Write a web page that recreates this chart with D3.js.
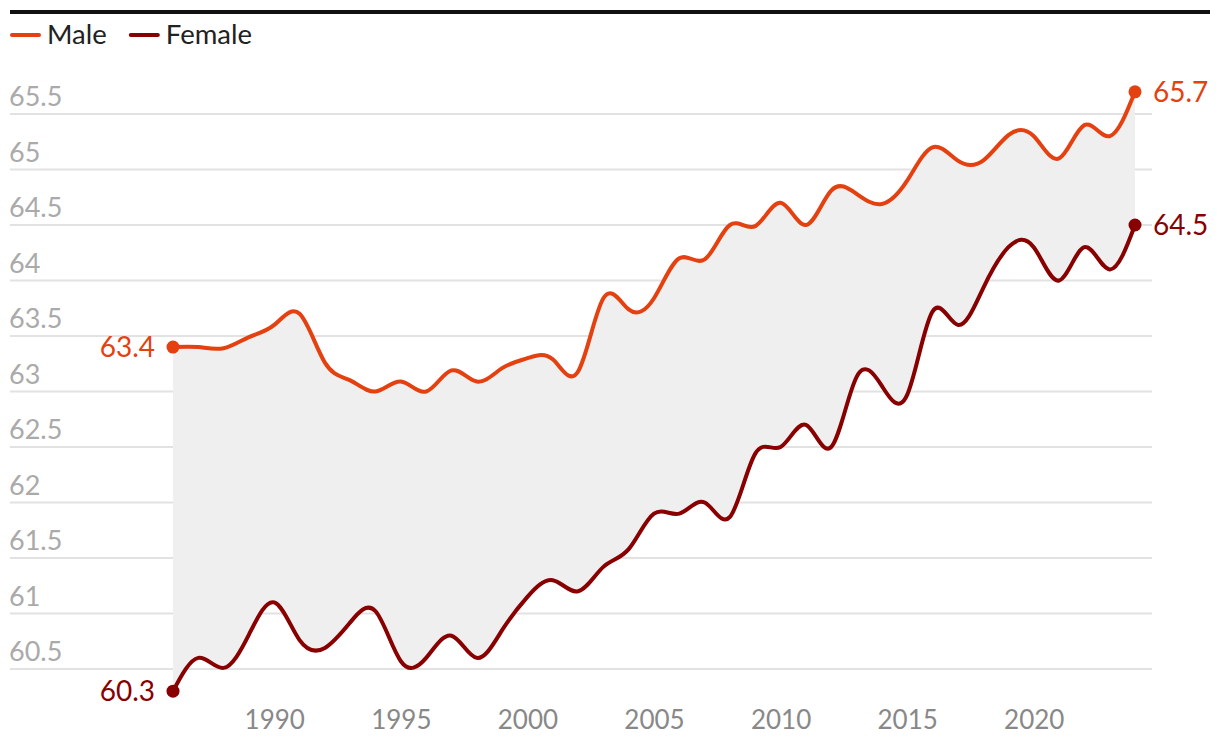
<!DOCTYPE html>
<html>
<head>
<meta charset="utf-8">
<script src="https://cdn.jsdelivr.net/npm/d3@7"></script>
<style>
  html, body { margin: 0; padding: 0; background: #fff; }
  svg { display: block; font-family: Lato, "Open Sans", sans-serif; }
</style>
</head>
<body>
<svg id="chart" width="1220" height="750"></svg>
<script>
const years = d3.range(1986, 2025);
const male = [63.4, 63.4, 63.39, 63.49, 63.6, 63.7, 63.26, 63.1, 63.0, 63.09,
  63.0, 63.19, 63.09, 63.21, 63.3, 63.29, 63.18, 63.84, 63.74, 63.84,
  64.2, 64.19, 64.5, 64.49, 64.7, 64.5, 64.81, 64.78, 64.69, 64.9,
  65.2, 65.08, 65.08, 65.31, 65.3, 65.1, 65.4, 65.3, 65.7];
const female = [60.3, 60.6, 60.51, 60.81, 61.1, 60.76, 60.69, 60.92, 61.02, 60.57,
  60.6, 60.8, 60.6, 60.85, 61.15, 61.3, 61.2, 61.42, 61.58, 61.9,
  61.9, 62.0, 61.87, 62.44, 62.5, 62.7, 62.5, 63.13, 63.05, 62.97,
  63.72, 63.6, 63.93, 64.3, 64.3, 64.0, 64.3, 64.1, 64.5];
const seriesNames = ["Male", "Female"];
const colors = ["#e5400f", "#880000"];
const yTicks = [60.5, 61, 61.5, 62, 62.5, 63, 63.5, 64, 64.5, 65, 65.5];
const xTicks = [1990, 1995, 2000, 2005, 2010, 2015, 2020];

const svg = d3.select("#chart");
const x = d3.scaleLinear().domain([1986, 2024]).range([173, 1135]);
const y = d3.scaleLinear().domain([60.5, 65.5]).range([669, 114]);
const curve = d3.curveNatural;

const data = years.map((yr, i) => ({ yr, m: male[i], f: female[i] }));

// top rule
svg.append("rect").attr("x", 10).attr("y", 10).attr("width", 1200).attr("height", 4).attr("fill", "#111");

// legend
const leg = svg.append("g");
let lx = 10;
seriesNames.forEach((name, i) => {
  leg.append("line").attr("x1", lx + 2).attr("x2", lx + 29).attr("y1", 35).attr("y2", 35)
    .attr("stroke", colors[i]).attr("stroke-width", 4).attr("stroke-linecap", "round");
  const t = leg.append("text").attr("x", lx + 37).attr("y", 44).attr("font-size", 27.5)
    .attr("fill", "#222").text(name);
  lx += 37 + t.node().getComputedTextLength() + 22;
});

// grid + y labels
const grid = svg.append("g");
yTicks.forEach(v => {
  grid.append("line").attr("x1", 10).attr("x2", 1152).attr("y1", y(v)).attr("y2", y(v))
    .attr("stroke", "#e2e2e2").attr("stroke-width", 2);
  grid.append("text").attr("x", 9).attr("y", y(v) - 8).attr("font-size", 27)
    .attr("fill", "#aaaaaa").text(v);
});

// x axis
const xAxis = d3.axisBottom(x).tickValues(xTicks).tickSize(0).tickFormat(d3.format("d"));
const xg = svg.append("g").attr("transform", "translate(0,708)").call(xAxis);
xg.select(".domain").remove();
xg.selectAll("text").attr("font-size", 26).attr("fill", "#888").attr("font-family", "Lato, 'Open Sans', sans-serif").attr("dy", "0.71em");

// area between
const area = d3.area().x(d => x(d.yr)).y0(d => y(d.f)).y1(d => y(d.m)).curve(curve);
svg.append("path").datum(data).attr("d", area).attr("fill", "#efefef");

// lines
const keys = ["m", "f"];
keys.forEach((k, i) => {
  const line = d3.line().x(d => x(d.yr)).y(d => y(d[k])).curve(curve);
  svg.append("path").datum(data).attr("d", line).attr("fill", "none")
    .attr("stroke", colors[i]).attr("stroke-width", 4).attr("stroke-linejoin", "round");
  const first = data[0], last = data[data.length - 1];
  svg.append("circle").attr("cx", x(first.yr)).attr("cy", y(first[k])).attr("r", 6.5).attr("fill", colors[i]);
  svg.append("circle").attr("cx", x(last.yr)).attr("cy", y(last[k])).attr("r", 6.5).attr("fill", colors[i]);
  svg.append("text").attr("x", x(first.yr) - 18).attr("y", y(first[k])).attr("dy", "0.36em")
    .attr("text-anchor", "end").attr("font-size", 28).attr("fill", colors[i]).text(first[k].toFixed(1));
  svg.append("text").attr("x", x(last.yr) + 18).attr("y", y(last[k])).attr("dy", "0.36em")
    .attr("font-size", 28).attr("fill", colors[i]).text(last[k].toFixed(1));
});
</script>
</body>
</html>
